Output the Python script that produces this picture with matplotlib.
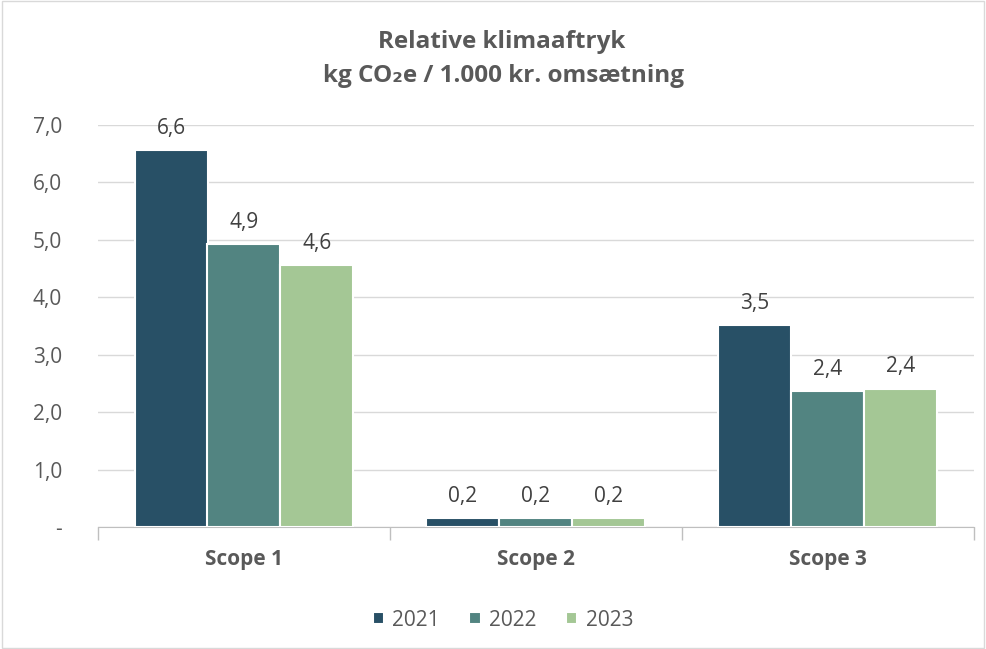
import matplotlib.pyplot as plt
import matplotlib.patches as patches
import numpy as np
from matplotlib.ticker import FuncFormatter, FixedLocator

plt.rcParams['font.family'] = ['Open Sans', 'DejaVu Sans']

categories = ['Scope 1', 'Scope 2', 'Scope 3']
years = ['2021', '2022', '2023']
values_2021 = [6.57, 0.16, 3.52]
values_2022 = [4.92, 0.151, 2.37]
values_2023 = [4.56, 0.158, 2.41]
series = [values_2021, values_2022, values_2023]
colors = ['#285066', '#528481', '#a4c795']

fig = plt.figure(figsize=(9.86, 6.49), dpi=100)
ax = fig.add_axes([98 / 986, 1 - 527 / 649, 876 / 986, 402 / 649])

x = np.arange(len(categories))
width = 0.25
for i, (vals, year, col) in enumerate(zip(series, years, colors)):
    pos = x + (i - 1) * width
    bars = ax.bar(pos, vals, width, color=col, edgecolor='white', linewidth=1.5,
                  label=year, zorder=3)
    for b, v in zip(bars, vals):
        ax.annotate(f'{v:.1f}'.replace('.', ','), (b.get_x() + b.get_width() / 2, v),
                    xytext=(0, 8), textcoords='offset points', ha='center', va='bottom',
                    fontsize=15, color='#404040')

ax.set_xlim(-0.5, 2.5)
ax.set_ylim(0, 7)
ax.set_yticks(np.arange(0, 8, 1))
ax.yaxis.set_major_formatter(FuncFormatter(lambda v, p: '-' if v == 0 else f'{v:.1f}'.replace('.', ',')))
ax.grid(axis='y', color='#d9d9d9', linewidth=1, zorder=0)
ax.tick_params(axis='y', length=0, pad=26, labelsize=15, labelcolor='#595959')

ax.set_xticks(x)
ax.set_xticklabels(categories, fontsize=15, fontweight='bold', color='#595959')
ax.tick_params(axis='x', length=0, pad=16)
ax.xaxis.set_minor_locator(FixedLocator([-0.5, 0.5, 1.5, 2.5]))
ax.tick_params(axis='x', which='minor', length=9, color='#bfbfbf', width=1)

for s in ['top', 'right', 'left']:
    ax.spines[s].set_visible(False)
ax.spines['bottom'].set_color('#bfbfbf')

fig.text(0.509, 1 - 42 / 649, 'Relative klimaaftryk', ha='center', va='center',
         fontsize=17.5, fontweight='bold', color='#595959')
fig.text(0.511, 1 - 76 / 649, 'kg CO\u2082e / 1.000 kr. omsætning', ha='center', va='center',
         fontsize=17.5, fontweight='bold', color='#595959')

fig.legend(loc='center', bbox_to_anchor=(0.51, 1 - 620 / 649), ncol=3, frameon=False,
           fontsize=15, labelcolor='#595959', handlelength=0.55, handleheight=0.55,
           handletextpad=0.4, columnspacing=1.4)

fig.patches.append(patches.Rectangle((0.002, 0.002), 0.996, 0.996, transform=fig.transFigure,
                                     fill=False, edgecolor='#d9d9d9', linewidth=1))

fig.savefig('out.png', dpi=100)
